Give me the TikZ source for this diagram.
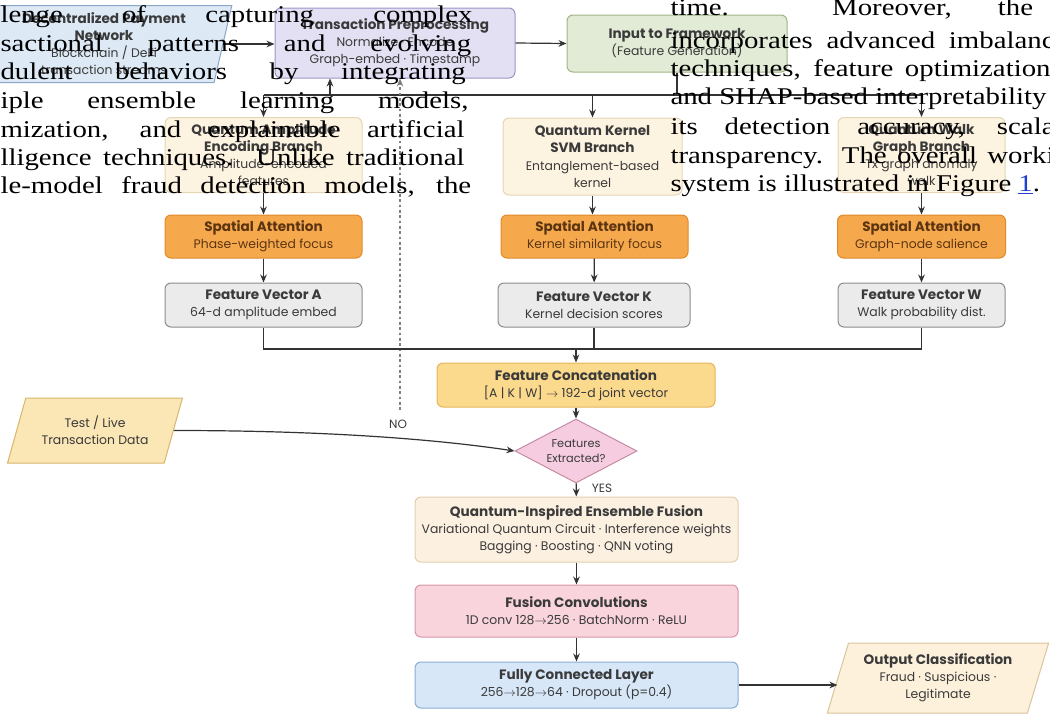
\documentclass[tikz,border=0pt]{standalone}
\usepackage{fontspec}
\setsansfont{Poppins}
\newfontfamily\paperfont[FakeStretch=1.2]{Liberation Serif}
\usetikzlibrary{arrows.meta,shapes.geometric}

\definecolor{txtgray}{HTML}{3A3A3A}
\definecolor{linegray}{HTML}{333333}
\definecolor{srcfill}{HTML}{DDE9F5}\definecolor{srcline}{HTML}{8AA9C8}
\definecolor{prefill}{HTML}{E4E0F3}\definecolor{preline}{HTML}{9C95C8}
\definecolor{inpfill}{HTML}{E2EBD6}\definecolor{inpline}{HTML}{9FB486}
\definecolor{brfill}{HTML}{FDF3E1}\definecolor{brline}{HTML}{E5D5B5}
\definecolor{attfill}{HTML}{F6A84C}\definecolor{attline}{HTML}{E08A2A}
\definecolor{atttxt}{HTML}{5B3512}
\definecolor{vecfill}{HTML}{EBEBEB}\definecolor{vecline}{HTML}{8C8C8C}
\definecolor{catfill}{HTML}{FBD98D}\definecolor{catline}{HTML}{E3B75A}
\definecolor{diafill}{HTML}{F6CDE0}\definecolor{dialine}{HTML}{C68AA5}
\definecolor{testfill}{HTML}{FBE6B5}\definecolor{testline}{HTML}{D8B66C}
\definecolor{ensfill}{HTML}{FCF0E1}\definecolor{ensline}{HTML}{E2CFAE}
\definecolor{convfill}{HTML}{F9D4DD}\definecolor{convline}{HTML}{D696A6}
\definecolor{fcfill}{HTML}{D7E7F8}\definecolor{fcline}{HTML}{8AAED3}
\definecolor{outfill}{HTML}{FDF1DC}\definecolor{outline}{HTML}{D9C49C}
\definecolor{linkblue}{HTML}{1F3FD0}

\tikzset{every picture/.style={line width=0.75pt}}
\tikzset{
  box/.style={draw, rounded corners=4.5pt, align=center, inner sep=0pt, text=txtgray,
    font=\sffamily\fontsize{9.3}{12.8}\selectfont},
  pgram/.style={trapezium, trapezium stretches=true, draw, align=center, inner sep=0pt,
    text=txtgray, font=\sffamily\fontsize{9.3}{12.8}\selectfont},
  arr/.style={draw=linegray, line width=0.9pt, -{Stealth[length=6pt,width=5pt]}},
  link/.style={draw=linegray, line width=0.9pt},
  noline/.style={draw=gray, line width=0.9pt, dash pattern=on 2pt off 2pt, -{Stealth[length=6pt,width=5pt]}},
  lbl/.style={font=\sffamily\fontsize{9}{10}\selectfont, text=txtgray, inner sep=0pt},
  paper/.style={font=\paperfont\fontsize{18}{21}\selectfont, inner sep=0pt, anchor=base west},
}
\newcommand{\ttl}[1]{{\bfseries\fontsize{10.2}{12.8}\selectfont #1}}

\begin{document}
\begin{tikzpicture}[x=0.75pt,y=0.75pt,yscale=-1,xscale=1]
\useasboundingbox (0,0) rectangle (1050,721);

% Top row
\node[pgram, trapezium left angle=78, trapezium right angle=102, fill=srcfill, draw=srcline,
  minimum width=192pt, minimum height=57.75pt] (src) at (104,44)
  {\ttl{Decentralized Payment}\\\ttl{Network}\\Blockchain / DeFi\\transaction streams};
\node[box, fill=prefill, draw=preline, minimum width=180pt, minimum height=52.5pt] (pre) at (395,43)
  {\ttl{Transaction Preprocessing}\\Normalize · Encode\\Graph-embed · Timestamp};
\node[box, fill=inpfill, draw=inpline, minimum width=165pt, minimum height=42.75pt] (inp) at (677,43.5)
  {\ttl{Input to Framework}\\(Feature Generation)};

% Branches
\node[box, fill=brfill, draw=brline, minimum width=147.75pt, minimum height=56.25pt] (amp) at (263.5,155)
  {\ttl{Quantum Amplitude}\\\ttl{Encoding Branch}\\Amplitude-encoded\\features};
\node[box, fill=brfill, draw=brline, minimum width=134.25pt, minimum height=57.75pt] (ker) at (592.5,156.5)
  {\ttl{Quantum Kernel}\\\ttl{SVM Branch}\\Entanglement-based\\kernel};
\node[box, fill=brfill, draw=brline, minimum width=125.25pt, minimum height=56.25pt] (wlk) at (921.5,155)
  {\ttl{Quantum Walk}\\\ttl{Graph Branch}\\Tx graph anomaly\\walk};

% Attention
\node[box, fill=attfill, draw=attline, text=atttxt, minimum width=147.75pt, minimum height=32.25pt] (attA) at (263.5,236.5)
  {\ttl{Spatial Attention}\\Phase-weighted focus};
\node[box, fill=attfill, draw=attline, text=atttxt, minimum width=140.25pt, minimum height=32.25pt] (attK) at (594.5,236.5)
  {\ttl{Spatial Attention}\\Kernel similarity focus};
\node[box, fill=attfill, draw=attline, text=atttxt, minimum width=126pt, minimum height=32.25pt] (attW) at (921.5,236.5)
  {\ttl{Spatial Attention}\\Graph-node salience};

% Feature vectors
\node[box, fill=vecfill, draw=vecline, minimum width=147.75pt, minimum height=33pt] (vecA) at (263.5,305)
  {\ttl{Feature Vector A}\\64-d amplitude embed};
\node[box, fill=vecfill, draw=vecline, minimum width=144pt, minimum height=33pt] (vecK) at (594,305)
  {\ttl{Feature Vector K}\\Kernel decision scores};
\node[box, fill=vecfill, draw=vecline, minimum width=125.25pt, minimum height=33pt] (vecW) at (921.5,305)
  {\ttl{Feature Vector W}\\Walk probability dist.};

% Fusion column
\node[box, fill=catfill, draw=catline, minimum width=208.5pt, minimum height=33pt] (cat) at (576,385)
  {\ttl{Feature Concatenation}\\{[}A | K | W{]} $\rightarrow$ 192-d joint vector};
\node[diamond, aspect=1.9, draw=dialine, fill=diafill, align=center, inner sep=0pt, text=txtgray,
  font=\sffamily\fontsize{8.5}{11}\selectfont, minimum width=91.5pt, minimum height=48pt] (dia) at (576,451)
  {Features\\Extracted?};
\node[pgram, trapezium left angle=64, trapezium right angle=116, fill=testfill, draw=testline,
  minimum width=131.25pt, minimum height=48.75pt] (test) at (95,430.5)
  {Test / Live\\Transaction Data};
\node[box, fill=ensfill, draw=ensline, minimum width=242.25pt, minimum height=48.75pt] (ens) at (576.5,529.5)
  {\ttl{Quantum-Inspired Ensemble Fusion}\\Variational Quantum Circuit · Interference weights\\Bagging · Boosting · QNN voting};
\node[box, fill=convfill, draw=convline, minimum width=242.25pt, minimum height=39pt] (conv) at (576.5,611)
  {\ttl{Fusion Convolutions}\\1D conv 128$\rightarrow$256 · BatchNorm · ReLU};
\node[box, fill=fcfill, draw=fcline, minimum width=242.25pt, minimum height=34.5pt] (fc) at (576.5,685)
  {\ttl{Fully Connected Layer}\\256$\rightarrow$128$\rightarrow$64 · Dropout (p=0.4)};
\node[pgram, trapezium left angle=70, trapezium right angle=110, fill=outfill, draw=outline,
  minimum width=166pt, minimum height=52.5pt] (out) at (938,678)
  {\ttl{Output Classification}\\Fraud · Suspicious ·\\Legitimate};

% Text Node
\node[lbl] (nolbl) at (398,424) {NO};
% Text Node
\node[lbl] (yeslbl) at (602,488) {YES};

% Coordinates
\coordinate (split) at (677,95);
\coordinate (fb) at (330,95);
\coordinate (join) at (576,349);
\coordinate (nofoot) at (400,410);

%Straight Lines
\draw[arr] (src.east) -- (src.east -| pre.west);
\draw[arr] (pre.east) -- (inp.west);
\draw[link] (inp.south) -- (split);
\draw[link] (amp.north |- split) -- (wlk.north |- split);
\draw[arr] (amp.north |- split) -- (amp.north);
\draw[arr] (ker.north |- split) -- (ker.north);
\draw[arr] (wlk.north |- split) -- (wlk.north);
\draw[arr] (fb) -- (fb |- pre.south);
\draw[noline] (nofoot) -- (nofoot |- pre.south);

\draw[arr] (amp) -- (attA);
\draw[arr] (ker.south) -- (ker.south |- attK.north);
\draw[arr] (wlk) -- (attW);
\draw[arr] (attA) -- (vecA);
\draw[arr] (attK) -- (vecK);
\draw[arr] (attW) -- (vecW);

\draw[link] (vecA.south) -- (vecA.south |- join) -- (vecW.south |- join) -- (vecW.south);
\draw[link] (vecK.south) -- (vecK.south |- join);
\draw[arr] (join) -- (cat.north);
\draw[arr] (cat) -- (dia);
\draw[arr] (test.east) .. controls +(150,0) and +(-80,-12) .. (dia.west);
\draw[arr] (dia) -- (ens);
\draw[arr] (ens) -- (conv);
\draw[arr] (conv) -- (fc);
\draw[arr] (fc.east) -- (fc.east -| out.west);

% Text Node (page text, left column)
\node[paper] (pl1) at (0,22) {\makebox[354pt][s]{lenge of capturing complex}};
\node[paper] (pl2) at (0,51) {\makebox[353pt][s]{sactional patterns and evolving}};
\node[paper] (pl3) at (0,79) {\makebox[349pt][s]{dulent behaviors by integrating}};
\node[paper] (pl4) at (0,108) {\makebox[351pt][s]{iple ensemble learning models,}};
\node[paper] (pl5) at (0,137) {\makebox[348pt][s]{mization, and explainable artificial}};
\node[paper] (pl6) at (0,165) {\makebox[348pt][s]{lligence techniques. Unlike traditional}};
\node[paper] (pl7) at (0,193) {\makebox[353pt][s]{le-model fraud detection models, the}};

% Text Node (page text, right column)
\node[paper] (pr1) at (670,15) {\makebox[272pt][s]{time. Moreover, the}};
\node[paper] (pr2) at (670,48) {\makebox[288pt][s]{incorporates advanced imbalanc}};
\node[paper] (pr3) at (670,76) {\makebox[285pt][s]{techniques, feature optimization}};
\node[paper] (pr4) at (670,104) {\makebox[282pt][s]{and SHAP-based interpretability}};
\node[paper] (pr5) at (670,134) {\makebox[288pt][s]{its detection accuracy, scala}};
\node[paper] (pr6) at (670,163) {\makebox[288pt][s]{transparency. The overall worki}};
\node[paper] (pr7) at (670,191) {system is illustrated in Figure {\color{linkblue}\underline{1}}.};

\end{tikzpicture}
\end{document}
